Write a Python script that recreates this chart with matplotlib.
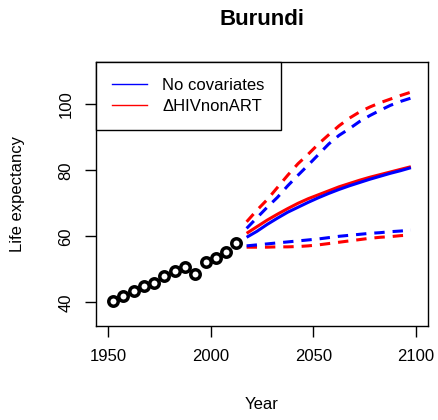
import matplotlib
matplotlib.use("Agg")
import matplotlib.pyplot as plt
from matplotlib.lines import Line2D

plt.rcParams["font.family"] = ["Liberation Sans", "DejaVu Sans"]

# observed life expectancy (5-year periods)
obs_years = [1952.5, 1957.5, 1962.5, 1967.5, 1972.5, 1977.5, 1982.5, 1987.5,
             1992.5, 1997.5, 2002.5, 2007.5, 2012.5]
obs_e0 = [40.5, 41.9, 43.5, 45.0, 45.7, 47.9, 49.6, 50.8, 48.7, 52.2, 53.5, 55.2, 57.9]

# projections
proj_years = [2017.5, 2022.5, 2027.5, 2032.5, 2037.5, 2042.5, 2047.5, 2052.5, 2057.5,
              2062.5, 2067.5, 2072.5, 2077.5, 2082.5, 2087.5, 2092.5, 2097.5]

# no covariates (blue)
nocov_median = [59.7, 61.5, 63.6, 65.5, 67.3, 68.8, 70.3, 71.7, 73.0,
                74.2, 75.3, 76.3, 77.3, 78.2, 79.1, 79.9, 80.8]
nocov_upper = [62.4, 65.6, 68.8, 71.8, 75.3, 78.5, 81.6, 84.8, 88.0,
               90.6, 92.6, 94.8, 96.6, 98.2, 99.7, 100.9, 101.9]
nocov_lower = [57.1, 57.4, 57.7, 58.0, 58.3, 58.6, 58.9, 59.2, 59.6,
               60.0, 60.3, 60.6, 60.9, 61.1, 61.4, 61.6, 61.9]

# delta HIV non-ART (red)
hiv_median = [60.9, 62.9, 64.9, 66.7, 68.4, 70.0, 71.4, 72.6, 73.8,
              75.0, 76.0, 77.0, 77.9, 78.7, 79.5, 80.3, 81.1]
hiv_upper = [64.4, 67.9, 71.1, 74.8, 78.5, 82.0, 84.9, 88.0, 90.8,
             93.5, 95.8, 97.7, 99.2, 100.5, 101.6, 102.7, 103.7]
hiv_lower = [56.7, 56.7, 56.7, 56.8, 56.8, 56.9, 57.1, 57.4, 57.8,
             58.2, 58.6, 59.0, 59.4, 59.7, 59.9, 60.2, 60.4]

xticks = [1950, 2000, 2050, 2100]
yticks = [40, 60, 80, 100]

fig = plt.figure(figsize=(4.39, 4.20), dpi=100)
ax = fig.add_axes([0.218, 0.223, 0.7577, 0.629])

lw = 2.2
dash = (3.4, 2.6)
for med, up, lo, col in [(hiv_median, hiv_upper, hiv_lower, "#FF0000"),
                         (nocov_median, nocov_upper, nocov_lower, "#0000FF")]:
    ax.plot(proj_years, med, color=col, lw=lw, solid_capstyle="butt")
    ax.plot(proj_years, up, color=col, lw=lw, dashes=dash, dash_capstyle="butt")
    ax.plot(proj_years, lo, color=col, lw=lw, dashes=dash, dash_capstyle="butt")

ax.plot(obs_years, obs_e0, "o", mfc="white", mec="black", ms=6.8, mew=2.5, zorder=5)

ax.set_xlim(1944, 2106)
ax.set_ylim(32.7, 112.8)
ax.set_xticks(xticks)
ax.set_yticks(yticks)
ax.set_yticklabels([str(v) for v in yticks], rotation=90, va="center")
ax.tick_params(labelsize=12, length=8, width=1, pad=8, color="black")
for s in ax.spines.values():
    s.set_linewidth(1.0)
    s.set_color("black")

ax.set_xlabel("Year", fontsize=12, labelpad=24)
ax.set_ylabel("Life expectancy", fontsize=12, labelpad=24)
ax.set_title("Burundi", fontsize=16, fontweight="bold", pad=27)

handles = [Line2D([], [], color="#0000FF", lw=1),
           Line2D([], [], color="#FF0000", lw=1)]
leg = ax.legend(handles, ["No covariates", "\u0394HIVnonART"], loc="upper left",
                fontsize=12, frameon=True, fancybox=False, framealpha=1,
                borderaxespad=0, borderpad=0.95, handlelength=2.1,
                handletextpad=0.95, labelspacing=0.35)
leg.get_frame().set_edgecolor("black")
leg.get_frame().set_linewidth(1.0)

fig.savefig("out.png", dpi=100)
